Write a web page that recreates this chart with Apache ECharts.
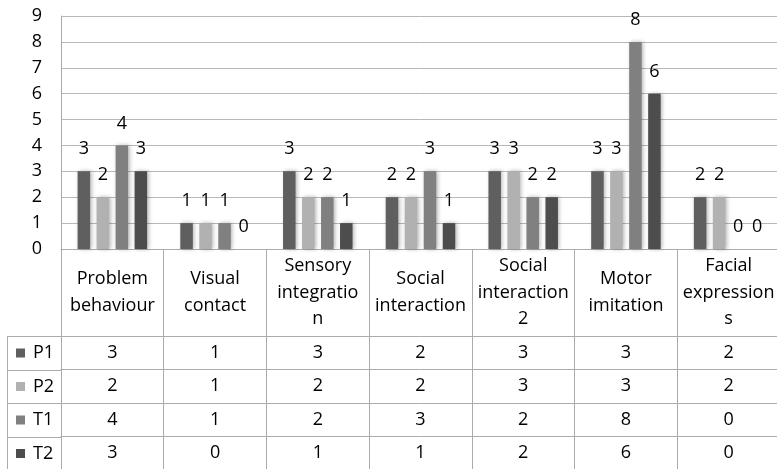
<!DOCTYPE html>
<html>
<head>
<meta charset="utf-8">
<script src="https://cdn.jsdelivr.net/npm/echarts@6/dist/echarts.min.js"></script>
<style>
  html, body { margin: 0; padding: 0; background: #fff; }
  #main { width: 777px; height: 469px; }
</style>
</head>
<body>
<div id="main"></div>
<script>
// categories, wrapped the way the cells show them
const categories = [
  'Problem\nbehaviour',
  'Visual\ncontact',
  'Sensory\nintegratio\nn',
  'Social\ninteraction',
  'Social\ninteraction\n2',
  'Motor\nimitation',
  'Facial\nexpression\ns'
];
const seriesNames = ['P1', 'P2', 'T1', 'T2'];
const P1 = [3, 1, 3, 2, 3, 3, 2];
const P2 = [2, 1, 2, 2, 3, 3, 2];
const T1 = [4, 1, 2, 3, 2, 8, 0];
const T2 = [3, 0, 1, 1, 2, 6, 0];
const yMin = 0;
const yMax = 9;
const yStep = 1;

const colors = ['#5f5f5f', '#b1b1b1', '#808080', '#4d4d4d'];
const font = 'Open Sans';
const textColor = '#000';
const lineColor = '#ababab';
const rows = [P1, P2, T1, T2];
const headerH = 87;   // header row height under the plot
const rowH = 33.5;    // table row height

const chart = echarts.init(document.getElementById('main'));

// one extra x axis per table row, its labels are the row values
const rowAxes = rows.map((vals, i) => ({
  type: 'category',
  data: categories,
  position: 'bottom',
  offset: headerH + rowH * i,
  axisLine: { show: true, lineStyle: { color: lineColor } },
  axisTick: { show: false },
  splitLine: { show: false },
  axisLabel: {
    interval: 0,
    formatter: (v, idx) => String(vals[idx]),
    fontFamily: font,
    fontSize: 18,
    color: textColor,
    verticalAlign: 'middle',
    margin: rowH / 2
  }
}));

const option = {
  animation: false,
  backgroundColor: '#fff',
  grid: { left: 61, right: -3, top: 16, bottom: 220, outerBoundsMode: 'none', containLabel: false },
  legend: {
    data: seriesNames,
    orient: 'vertical',
    left: 16,
    top: 342,
    padding: 0,
    icon: 'rect',
    itemWidth: 9,
    itemHeight: 9,
    itemGap: 11.5,
    selectedMode: false,
    itemStyle: { shadowBlur: 0, shadowOffsetX: 0 },
    textStyle: { fontFamily: font, fontSize: 18, lineHeight: 22, color: textColor, padding: [0, 0, 0, 3] }
  },
  xAxis: [
    {
      type: 'category',
      data: categories,
      position: 'bottom',
      axisLine: { show: true, lineStyle: { color: lineColor } },
      axisTick: { show: true, interval: 0, length: 222, lineStyle: { color: lineColor } },
      axisLabel: {
        interval: 0,
        fontFamily: font,
        fontSize: 18,
        lineHeight: 26.5,
        color: textColor,
        verticalAlign: 'middle',
        margin: 43.5
      }
    }
  ].concat(rowAxes),
  yAxis: {
    type: 'value',
    min: yMin,
    max: yMax,
    interval: yStep,
    axisLine: { show: true, lineStyle: { color: lineColor } },
    axisTick: { show: false },
    splitLine: { lineStyle: { color: '#b8b8b8' } },
    axisLabel: { fontFamily: font, fontSize: 18, color: textColor, margin: 19 }
  },
  series: rows.map((vals, i) => ({
    name: seriesNames[i],
    type: 'bar',
    xAxisIndex: 0,
    data: vals,
    barWidth: 12.5,
    barGap: '52%',
    itemStyle: {
      color: colors[i],
      shadowColor: 'rgba(0,0,0,0.3)',
      shadowBlur: 4,
      shadowOffsetX: 1.5
    },
    label: {
      show: true,
      position: 'top',
      distance: 13,
      fontFamily: font,
      fontSize: 18,
      color: textColor
    }
  })),
  // borders of the legend column on the left of the table
  graphic: [
    { type: 'line', shape: { x1: 7.5, y1: 336, x2: 7.5, y2: 469 }, style: { stroke: lineColor, lineWidth: 1 } }
  ].concat([0, 1, 2, 3].map(i => ({
    type: 'line',
    shape: { x1: 7, y1: Math.round(249 + headerH + rowH * i) + 0.5, x2: 61, y2: Math.round(249 + headerH + rowH * i) + 0.5 },
    style: { stroke: lineColor, lineWidth: 1 }
  })))
};

chart.setOption(option);
</script>
</body>
</html>
